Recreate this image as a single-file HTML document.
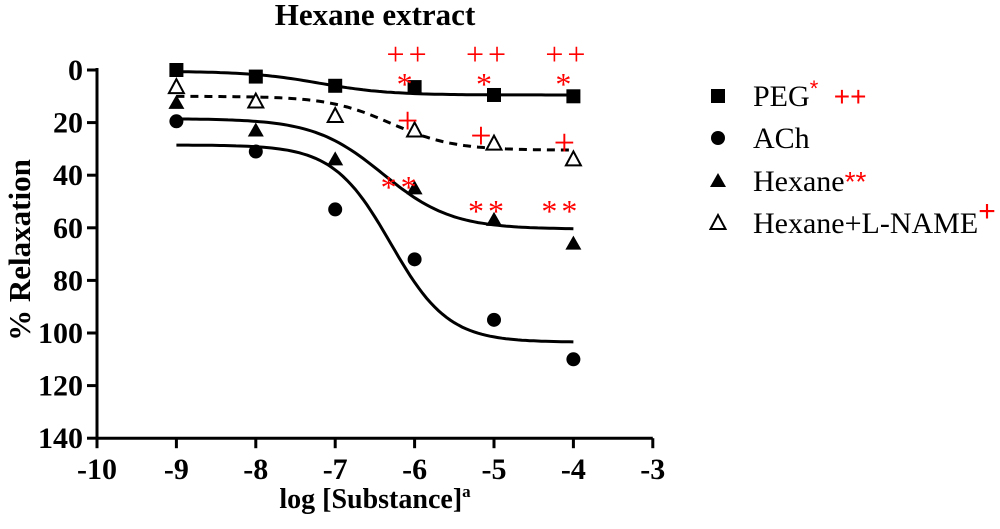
<!DOCTYPE html>
<html><head><meta charset="utf-8"><style>
body{margin:0;background:#fff}
svg text{font-family:"Liberation Serif",serif}
</style></head><body>
<svg id="c" width="1000" height="524" viewBox="0 0 1000 524" xmlns="http://www.w3.org/2000/svg">
<text x="375" y="25" text-anchor="middle" font-size="31" font-weight="bold">Hexane extract</text>
<g id="axes"></g><g id="curves"></g><g id="marks"></g><g id="sig"></g><g id="legend"></g>
<text x="375" y="508" text-anchor="middle" font-size="28" font-weight="bold">log [Substance]<tspan font-size="17" dy="-11">a</tspan></text>
<text transform="translate(30,250) rotate(-90)" text-anchor="middle" font-size="31" font-weight="bold">% Relaxation</text>
</svg>
<script>
const xDoses=[-9,-8,-7,-6,-5,-4];
const pegValues=[0,2.5,6,6.5,9.5,10];
const achValues=[19.5,31,53,72,95,110];
const hexaneValues=[12.5,23,34,45,57,66];
const lnameValues=[6.5,12,17.5,23,28,34];
// sigmoid fit params: [bottom, top, logEC50, hill]
const pegFit=[0.5,9.5,-7.2,1];
const lnameFit=[10,30.5,-6.3,1.1];
const hexaneFit=[18.5,60.5,-6.4,1];
const achFit=[28.5,103.5,-6.3,1.2];
const xTicks=[-10,-9,-8,-7,-6,-5,-4,-3];
const yTicks=[0,20,40,60,80,100,120,140];
const NS="http://www.w3.org/2000/svg";
const X=v=>97+(v+10)*79.4;
const Y=v=>70+v*2.63;
function el(p,t,a){const e=document.createElementNS(NS,t);for(const k in a)e.setAttribute(k,a[k]);p.appendChild(e);return e;}
const axes=document.getElementById('axes');
let e=el(axes,'line',{x1:X(-10),y1:Y(0)-2,x2:X(-10),y2:Y(140),stroke:'#000','stroke-width':3});

e=el(axes,'line',{x1:X(-10)-1,y1:Y(140),x2:X(-3),y2:Y(140),stroke:'#000','stroke-width':3});

yTicks.forEach(t=>{el(axes,'line',{x1:X(-10)-10,y1:Y(t),x2:X(-10),y2:Y(t),stroke:'#000','stroke-width':3});
 const tx=el(axes,'text',{x:X(-10)-14,y:Y(t)+10,'text-anchor':'end','font-size':30,'font-weight':'bold'});tx.textContent=t;
 });
xTicks.forEach(t=>{el(axes,'line',{x1:X(t),y1:Y(140),x2:X(t),y2:Y(140)+10,stroke:'#000','stroke-width':3});
 const tx=el(axes,'text',{x:X(t),y:Y(140)+41,'text-anchor':'middle','font-size':30,'font-weight':'bold'});tx.textContent=t;
 });
const curves=document.getElementById('curves');
function curve(f,name,dash){let d='';for(let i=0;i<=100;i++){const x=-9+5*i/100;const y=f[0]+(f[1]-f[0])/(1+Math.pow(10,(f[2]-x)*f[3]));d+=(i?'L':'M')+X(x).toFixed(1)+','+Y(y).toFixed(1);}
 const p=el(curves,'path',{d:d,fill:'none',stroke:'#000','stroke-width':3});if(dash)p.setAttribute('stroke-dasharray','8,6');
 }
curve(pegFit,'peg-curve');curve(lnameFit,'lname-curve',true);curve(hexaneFit,'hexane-curve');curve(achFit,'ach-curve');
const marks=document.getElementById('marks');
function marker(p,type,cx,cy){let m;
 if(type==='sq')m=el(p,'rect',{x:cx-7,y:cy-7,width:14,height:14,fill:'#000'});
 else if(type==='ci')m=el(p,'circle',{cx:cx,cy:cy,r:7,fill:'#000'});
 else if(type==='tri')m=el(p,'polygon',{points:`${cx},${cy-8} ${cx-8},${cy+6} ${cx+8},${cy+6}`,fill:'#000'});
 else m=el(p,'polygon',{points:`${cx},${cy-8} ${cx-7.5},${cy+6} ${cx+7.5},${cy+6}`,fill:'#fff',stroke:'#000','stroke-width':2});
 return m;}
[[pegValues,'sq','peg-point'],[achValues,'ci','ach-point'],[hexaneValues,'tri','hexane-point'],[lnameValues,'otri','lname-point']].forEach(([vals,t,n])=>{
 vals.forEach((v,i)=>{const m=marker(marks,t,X(xDoses[i]),Y(v));
  });});
const sig=document.getElementById('sig');
function st(x,y,s,fs,ls){const t=el(sig,'text',{x:x,y:y,'text-anchor':'middle','font-size':fs,fill:'#f00','font-family':'"Liberation Sans",sans-serif','letter-spacing':ls||0});t.textContent=s;
 }
[-6,-5,-4].forEach(d=>{st(X(d)-6,65,'++',32,4);st(X(d)-10,95,'*',32);});
st(X(-6)-7,133,'+',38);st(X(-5)-13,148,'+',38);st(X(-4)-9,155,'+',38);
st(X(-6)-14,198,'**',32,4);st(X(-5)-6,222,'**',32,4);st(X(-4)-12,222,'**',32,4);
const lg=document.getElementById('legend');
const legendLabels=['PEG','ACh','Hexane','Hexane+L-NAME'];
const lt=['sq','ci','tri','otri'],ly=[96,138,181,223];
const sups=[[['*',22,-10],['  ++',28,10]],[],[['**',28,0]],[['+',30,-12]]];
legendLabels.forEach((l,i)=>{const m=marker(lg,lt[i],718,ly[i]);
 
 const t=el(lg,'text',{x:753,y:ly[i]+10,'font-size':30});
 const s0=el(t,'tspan',{});s0.textContent=l;
 sups[i].forEach(([s,fs,dy])=>{const sp=el(t,'tspan',{fill:'#f00','font-size':fs,dy:dy,'font-family':'"Liberation Sans",sans-serif'});sp.textContent=s;sp.style.whiteSpace='pre';});
 t.style.whiteSpace='pre';
 });
</script>
</body></html>
